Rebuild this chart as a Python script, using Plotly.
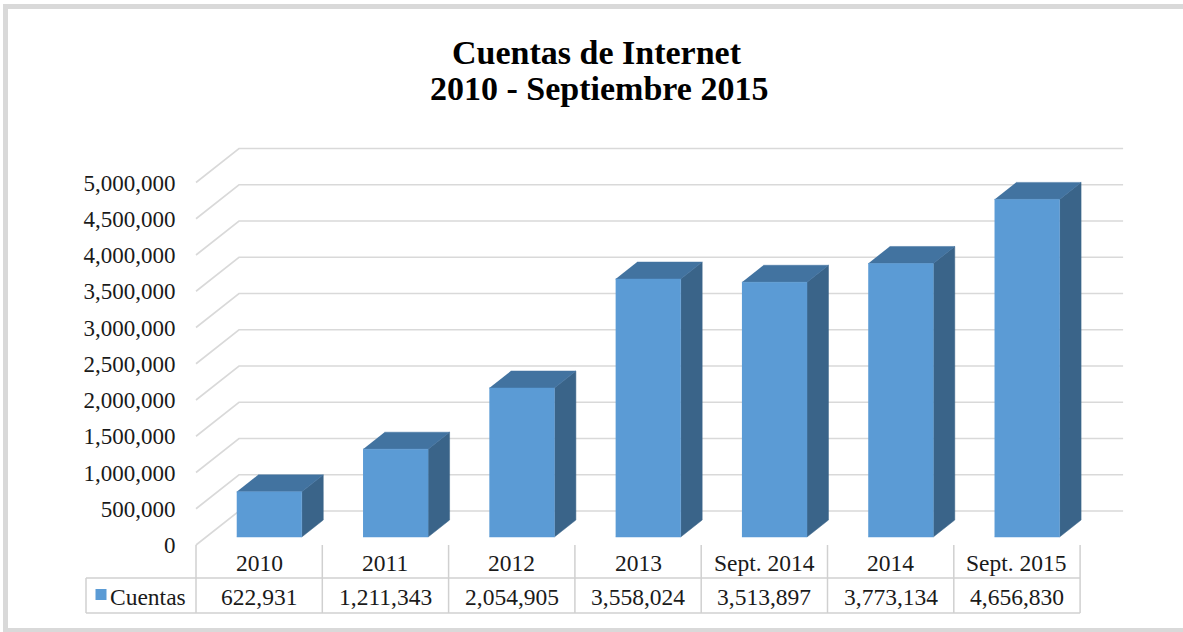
import plotly.graph_objects as go

# ---------------- data ----------------
categories = ["2010", "2011", "2012", "2013", "Sept. 2014", "2014", "Sept. 2015"]
values = [622931, 1211343, 2054905, 3558024, 3513897, 3773134, 4656830]
series_name = "Cuentas"
y_ticks = [0, 500000, 1000000, 1500000, 2000000, 2500000, 3000000, 3500000, 4000000, 4500000, 5000000]
title_lines = ["Cuentas de Internet", "2010 - Septiembre 2015"]

# ---------------- geometry / style ----------------
W, H = 1183, 632
ML, MR, MT, MB = 80, 59, 130, 12
U = 126.3      # px per category
PXM = 72.5     # px per 1,000,000
X0PX = 196     # px of front-plane left edge
Y0PX = 545     # px of front-plane zero
FONT = "Liberation Serif, Times New Roman, serif"
TXT = "#1a1a1a"
GRID = "#d9d9d9"
C_FRONT, C_TOP, C_SIDE = "#5B9BD5", "#4273A0", "#3A6489"


def xu(px):
    return -0.5 + (px - X0PX) / U


def yu(py):
    return (Y0PX - py) / PXM * 1e6


def pxp(px):
    return (px - ML) / (W - ML - MR)


def pyp(py):
    return (H - MB - py) / (H - MT - MB)


DX = 43 / U
DY = 34 / PXM * 1e6
F1, F2 = 0.235, 0.735
HW = 0.2575
n = len(categories)

fig = go.Figure()

# walls gridlines (left wall diagonal + back wall horizontal)
gx, gy = [], []
for v in y_ticks:
    gx += [-0.5, -0.5 + DX, n - 0.5 + DX, None]
    gy += [v, v + DY, v + DY, None]
fig.add_trace(go.Scatter(x=gx, y=gy, mode="lines", line=dict(color=GRID, width=1.6),
                         hoverinfo="skip", showlegend=False))

# 3D bars
for i, v in enumerate(values):
    xl, xr = i - HW, i + HW
    faces = [
        ([xr + F1 * DX, xr + F2 * DX, xr + F2 * DX, xr + F1 * DX],
         [F1 * DY, F2 * DY, v + F2 * DY, v + F1 * DY], C_SIDE),
        ([xl + F1 * DX, xr + F1 * DX, xr + F2 * DX, xl + F2 * DX],
         [v + F1 * DY, v + F1 * DY, v + F2 * DY, v + F2 * DY], C_TOP),
        ([xl + F1 * DX, xr + F1 * DX, xr + F1 * DX, xl + F1 * DX],
         [F1 * DY, F1 * DY, v + F1 * DY, v + F1 * DY], C_FRONT),
    ]
    for fx, fy, col in faces:
        fig.add_trace(go.Scatter(x=fx, y=fy, fill="toself", fillcolor=col, mode="lines",
                                 line=dict(color=col, width=0.5), hoverinfo="skip",
                                 showlegend=False))

# data table lines
tx, ty = [], []
for k in range(n + 1):
    tx += [-0.5 + k, -0.5 + k, None]
    ty += [0, yu(613), None]
tx += [xu(86), xu(86), None]
ty += [yu(578), yu(613), None]
for py in (578, 613):
    tx += [xu(86), n - 0.5, None]
    ty += [yu(py), yu(py), None]
fig.add_trace(go.Scatter(x=tx, y=ty, mode="lines", line=dict(color="#d0d0d0", width=1.5),
                         hoverinfo="skip", showlegend=False))

# legend key
fig.add_trace(go.Scatter(x=[xu(101)], y=[yu(594.5)], mode="markers",
                         marker=dict(symbol="square", size=11, color=C_FRONT),
                         hoverinfo="skip", showlegend=False))

TS = 23.5
ann = []
for i, (c, v) in enumerate(zip(categories, values)):
    ann.append(dict(x=i, y=yu(563), xref="x", yref="y", text=c, showarrow=False,
                    font=dict(family=FONT, size=TS, color=TXT), xanchor="center", yanchor="middle"))
    ann.append(dict(x=i, y=yu(597), xref="x", yref="y", text=f"{v:,}", showarrow=False,
                    font=dict(family=FONT, size=TS, color=TXT), xanchor="center", yanchor="middle"))
ann.append(dict(x=xu(108), y=yu(597), xref="x", yref="y", text=series_name, showarrow=False,
                font=dict(family=FONT, size=TS, color=TXT), xanchor="left", yanchor="middle"))
ann.append(dict(x=pxp(597), y=pyp(52), xref="paper", yref="paper", text=f"<b>{title_lines[0]}</b>",
                showarrow=False, font=dict(family=FONT, size=34, color="#000000"),
                xanchor="center", yanchor="middle"))
ann.append(dict(x=pxp(599), y=pyp(88), xref="paper", yref="paper", text=f"<b>{title_lines[1]}</b>",
                showarrow=False, font=dict(family=FONT, size=34, color="#000000"),
                xanchor="center", yanchor="middle"))

BORDER = dict(color="#d9d9d9", width=5)
shapes = [
    dict(type="line", xref="paper", yref="paper", x0=pxp(3), y0=pyp(6.5), x1=pxp(1190), y1=pyp(6.5), line=BORDER),
    dict(type="line", xref="paper", yref="paper", x0=pxp(5.5), y0=pyp(4), x1=pxp(5.5), y1=pyp(633), line=BORDER),
    dict(type="line", xref="paper", yref="paper", x0=pxp(3), y0=pyp(630.5), x1=pxp(1190), y1=pyp(630.5), line=BORDER),
]

fig.update_layout(
    width=W, height=H, margin=dict(l=ML, r=MR, t=MT, b=MB, autoexpand=False),
    paper_bgcolor="white", plot_bgcolor="white",
    annotations=ann, shapes=shapes, showlegend=False,
    xaxis=dict(range=[xu(ML), xu(W - MR)], showgrid=False, zeroline=False, showline=False,
               showticklabels=False, ticks="", fixedrange=True),
    yaxis=dict(range=[yu(H - MB), yu(MT)], anchor="free", position=pxp(X0PX),
               tickvals=y_ticks, tickformat=",", showgrid=False, zeroline=False, showline=False,
               ticks="outside", ticklen=16, tickcolor="rgba(0,0,0,0)",
               tickfont=dict(family=FONT, size=23, color=TXT), fixedrange=True),
)

fig.write_html("out.html", config={"displayModeBar": False},
               post_script="document.body.style.margin='0';document.body.style.overflow='hidden';")
